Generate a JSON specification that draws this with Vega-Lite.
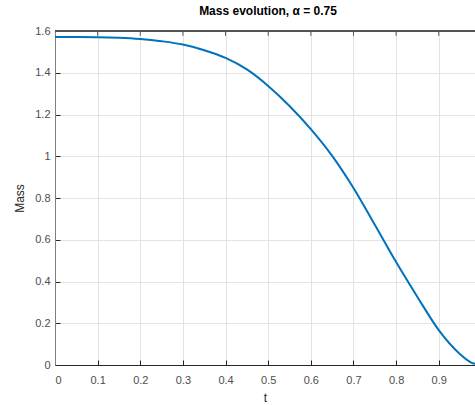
{
  "$schema": "https://vega.github.io/schema/vega-lite/v6.json",
  "width": 420,
  "height": 334,
  "autosize": {"type": "none"},
  "padding": {"left": 55, "top": 31, "right": 0, "bottom": 40},
  "background": "white",
  "config": {
    "view": {"stroke": null},
    "font": "Liberation Sans"
  },
  "title": {
    "text": "Mass evolution, α = 0.75",
    "font": "Liberation Sans",
    "fontSize": 12,
    "fontWeight": "bold",
    "color": "#000000",
    "anchor": "middle",
    "frame": "group",
    "offset": 7,
    "dx": 3
  },
  "datasets": {
    "mass": [
      {"t": 0, "mass": 1.5708},
      {"t": 0.05, "mass": 1.5708},
      {"t": 0.1, "mass": 1.5705},
      {"t": 0.15, "mass": 1.568},
      {"t": 0.2, "mass": 1.562},
      {"t": 0.25, "mass": 1.551},
      {"t": 0.3, "mass": 1.535},
      {"t": 0.35, "mass": 1.508},
      {"t": 0.4, "mass": 1.471},
      {"t": 0.45, "mass": 1.416},
      {"t": 0.5, "mass": 1.337},
      {"t": 0.55, "mass": 1.241},
      {"t": 0.6, "mass": 1.130},
      {"t": 0.65, "mass": 1.002},
      {"t": 0.7, "mass": 0.848},
      {"t": 0.75, "mass": 0.672},
      {"t": 0.8, "mass": 0.493},
      {"t": 0.85, "mass": 0.326},
      {"t": 0.9, "mass": 0.167},
      {"t": 0.95, "mass": 0.052},
      {"t": 0.975, "mass": 0.013},
      {"t": 1.0, "mass": 0.0}
    ],
    "topticks": [
      {"t": 0.1}, {"t": 0.2}, {"t": 0.3}, {"t": 0.4}, {"t": 0.5},
      {"t": 0.6}, {"t": 0.7}, {"t": 0.8}, {"t": 0.9}
    ]
  },
  "layer": [
    {
      "data": {"name": "mass"},
      "mark": {"type": "line", "color": "#0072BD", "strokeWidth": 2, "interpolate": "monotone", "clip": true},
      "encoding": {
        "x": {
          "field": "t", "type": "quantitative",
          "scale": {"domain": [0, 0.985], "nice": false, "zero": false},
          "axis": {
            "title": "t", "titleFontSize": 12, "titleFontWeight": "normal", "titleColor": "#262626", "titlePadding": 7,
            "values": [0, 0.1, 0.2, 0.3, 0.4, 0.5, 0.6, 0.7, 0.8, 0.9],
            "format": ".1~f",
            "labelFontSize": 11, "labelColor": "#4d4d4d", "labelPadding": 14,
            "tickSize": -5, "tickColor": "#262626",
            "domainColor": "#262626",
            "grid": true, "gridColor": "#e3e3e3"
          }
        },
        "y": {
          "field": "mass", "type": "quantitative",
          "scale": {"domain": [0, 1.6], "nice": false},
          "axis": {
            "title": "Mass", "titleFontSize": 12, "titleFontWeight": "normal", "titleColor": "#262626", "titlePadding": 8,
            "values": [0, 0.2, 0.4, 0.6, 0.8, 1, 1.2, 1.4, 1.6],
            "format": ".2~f",
            "labelFontSize": 11, "labelColor": "#4d4d4d", "labelPadding": 10,
            "tickSize": -5, "tickColor": "#262626",
            "domainColor": "#808080",
            "grid": true, "gridColor": "#e3e3e3"
          }
        }
      }
    },
    {
      "data": {"name": "mass"},
      "mark": {"type": "rule", "color": "#555555", "strokeWidth": 1},
      "encoding": {
        "y": {"datum": 1.6}
      }
    },
    {
      "data": {"name": "topticks"},
      "mark": {"type": "rule", "color": "#555555", "strokeWidth": 1},
      "encoding": {
        "x": {"field": "t", "type": "quantitative"},
        "y": {"datum": 1.6},
        "y2": {"datum": 1.577}
      }
    }
  ]
}
